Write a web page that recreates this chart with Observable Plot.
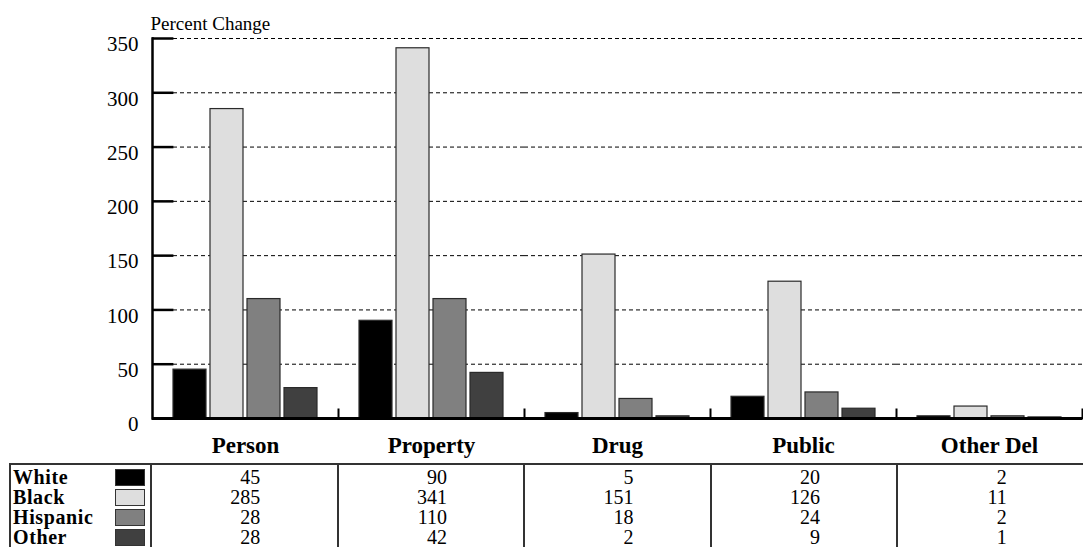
<!DOCTYPE html>
<html><head><meta charset="utf-8">
<script src="https://cdn.jsdelivr.net/npm/d3@7"></script>
<script src="https://cdn.jsdelivr.net/npm/@observablehq/plot@0.6"></script>
<style>
body{margin:0;background:#fff;font-family:"Liberation Serif","DejaVu Serif","Noto Serif",serif;}
#wrap{position:relative;width:1083px;height:555px;overflow:hidden;background:#fff;}
#chart{position:absolute;left:0;top:0;}
#tbl{position:absolute;left:9px;top:463px;border-top:2px solid #333;display:grid;font-size:20px;color:#000;}
.cell{height:20px;line-height:20px;border-left:2px solid #333;text-align:center;white-space:nowrap;}
.cell.first{padding-top:2px;}
.lab{display:flex;justify-content:space-between;align-items:center;text-align:left;font-weight:bold;font-size:20px;letter-spacing:0.6px;padding-left:2px;padding-right:5px;}
.sw{width:28px;height:15px;border:1.5px solid #333;}
.num{display:inline-block;width:32px;text-align:right;}
</style></head><body>
<div id="wrap"><div id="chart"></div><div id="tbl"></div></div>
<script>
const categories = ["Person", "Property", "Drug", "Public", "Other Del"];
const series = ["White", "Black", "Hispanic", "Other"];
const white = [45, 90, 5, 20, 2];
const black = [285, 341, 151, 126, 11];
const hispanic = [110, 110, 18, 24, 2];
const other = [28, 42, 2, 9, 1];
// values as printed in the table under the chart
const tableWhite = ["45", "90", "5", "20", "2"];
const tableBlack = ["285", "341", "151", "126", "11"];
const tableHispanic = ["28", "110", "18", "24", "2"];
const tableOther = ["28", "42", "2", "9", "1"];
const yTicks = [0, 50, 100, 150, 200, 250, 300, 350];
const colors = ["#000000", "#dedede", "#808080", "#404040"];

const seriesValues = [white, black, hispanic, other];
const tableValues = [tableWhite, tableBlack, tableHispanic, tableOther];
const rows = [];
categories.forEach((c, i) => series.forEach((s, j) => rows.push({category: c, series: s, value: seriesValues[j][i]})));

const W = 1083, H = 464, mL = 150, mR = 0, mT = 38, mB = 46;
const bandW = (W - mL - mR) / categories.length;
const innerH = H - mT - mB;
const FONT = "'Liberation Serif', 'DejaVu Serif', 'Noto Serif', serif";

const chart = Plot.plot({
  width: W, height: H,
  marginLeft: mL, marginRight: mR, marginTop: mT, marginBottom: mB,
  style: {fontFamily: FONT, fontSize: "20px", color: "#000", background: "transparent", overflow: "visible"},
  fx: {domain: categories, padding: 0, axis: null, label: null},
  x: {domain: series, paddingInner: 0.1, paddingOuter: 0.52, axis: null, label: null},
  y: {domain: [0, 350], axis: null, label: null},
  color: {domain: series, range: colors},
  marks: [
    Plot.gridY(yTicks.slice(1), {stroke: "#000", strokeOpacity: 1, strokeWidth: 1, strokeDasharray: "4,3"}),
    Plot.barY(rows, {fx: "category", x: "series", y: "value", fill: "series", stroke: "#2a2a2a", strokeWidth: 1.2}),
    Plot.ruleY(yTicks.slice(1), {fx: () => categories[0], stroke: "#000", strokeWidth: 2.5, insetRight: bandW - 22}),
    Plot.frame({anchor: "right", stroke: "#000", strokeWidth: 2, insetTop: innerH - 9}),
    Plot.frame({anchor: "left", facetAnchor: "left", stroke: "#000", strokeWidth: 2.5}),
    Plot.ruleY([0], {stroke: "#000", strokeWidth: 3}),
    Plot.axisY(yTicks, {anchor: "left", label: null, tickSize: 0, tickPadding: 14, dy: 6, fontSize: 21}),
    Plot.axisFx({anchor: "bottom", label: null, tickSize: 0, tickPadding: 18, fontSize: 23, fontWeight: "bold"}),
    Plot.text(["Percent Change"], {fx: () => categories[0], text: d => d, frameAnchor: "top-left", textAnchor: "start", lineAnchor: "middle", dy: -15, dx: -2, fontSize: 19})
  ]
});
document.getElementById("chart").appendChild(chart);

// table below the chart
const tbl = document.getElementById("tbl");
tbl.style.gridTemplateColumns = `${mL - 9}px repeat(${categories.length}, ${bandW}px)`;
series.forEach((s, j) => {
  const lab = document.createElement("div");
  lab.className = "cell lab" + (j === 0 ? " first" : "");
  lab.innerHTML = `<span>${s}</span><span class="sw" style="background:${colors[j]}"></span>`;
  tbl.appendChild(lab);
  categories.forEach((c, i) => {
    const d = document.createElement("div");
    d.className = "cell" + (j === 0 ? " first" : "");
    d.innerHTML = `<span class="num">${tableValues[j][i]}</span>`;
    tbl.appendChild(d);
  });
});
</script>
</body></html>
